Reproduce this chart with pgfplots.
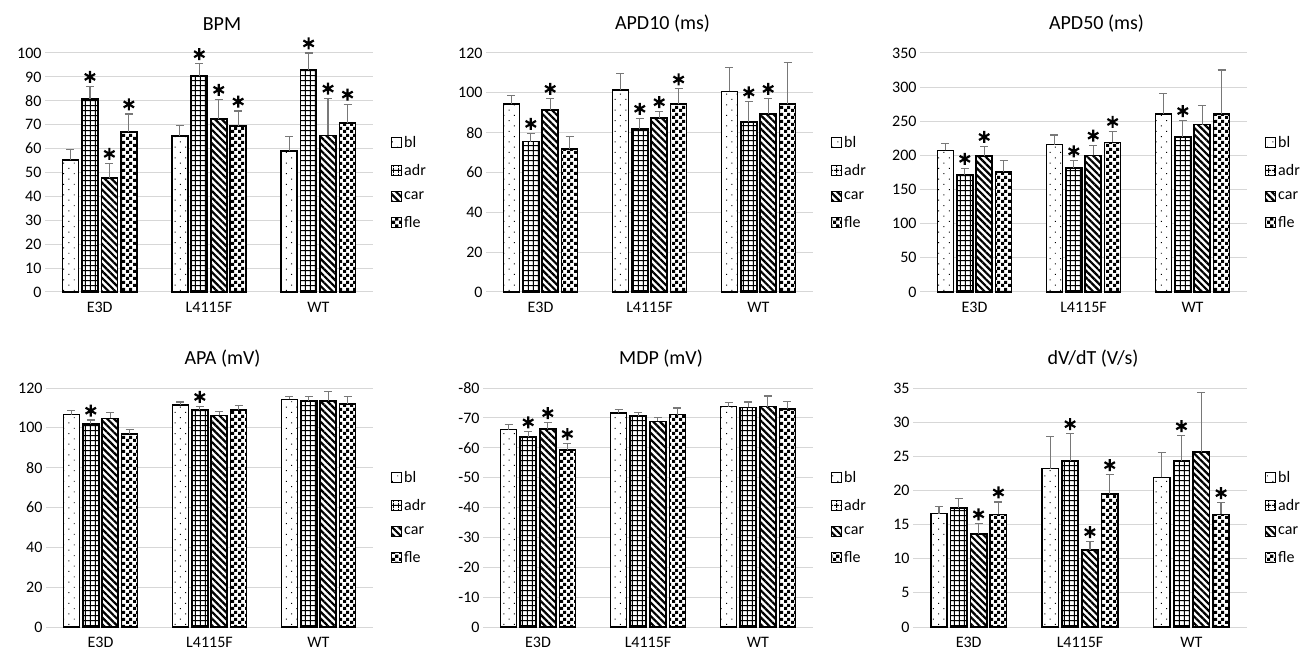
\documentclass[border=0pt]{standalone}
\usepackage{pgfplots}
\usepackage{pgfplotstable}
\pgfplotsset{compat=1.18}
\usepackage{fontspec}
\setmainfont{Carlito}
\usetikzlibrary{patterns,patterns.meta}
\definecolor{errgray}{RGB}{120,120,120}
\definecolor{gridgray}{RGB}{215,215,215}

\pgfdeclarepatternformonly{checker}{\pgfpointorigin}{\pgfqpoint{7pt}{7pt}}{\pgfqpoint{7pt}{7pt}}{%
  \pgfpathrectangle{\pgfpointorigin}{\pgfqpoint{3.5pt}{3.5pt}}%
  \pgfpathrectangle{\pgfqpoint{3.5pt}{3.5pt}}{\pgfqpoint{3.5pt}{3.5pt}}%
  \pgfusepath{fill}}

\pgfplotstableread{
x bl ble adr adre car care fle flee
0 55.2 4.5 80.8 5.2 47.6 6.2 67.0 7.5
1 65.2 4.6 90.3 5.2 72.3 8.3 69.5 6.2
2 58.9 6.0 92.9 7.1 65.5 15.6 70.6 8.0
}\bpm
\pgfplotstableread{
x bl ble adr adre car care fle flee
0 94.3 4.4 75.5 4.2 91.5 5.8 71.8 6.4
1 101.4 8.2 81.7 5.6 87.4 3.2 94.5 7.5
2 100.7 12.1 85.3 10.2 89.5 7.8 94.3 20.8
}\apdten
\pgfplotstableread{
x bl ble adr adre car care fle flee
0 207.5 10.3 172 9 199 14 176 16
1 216 14 182 10 200 15 219 16
2 261 30 227 24 245 28 261 64
}\apdfifty
\pgfplotstableread{
x bl ble adr adre car care fle flee
0 106.6 2.0 102.0 1.9 104.7 3.2 97.0 2.3
1 111.6 1.4 109.1 1.7 106.2 2.1 109.1 2.2
2 114.3 1.5 113.6 2.2 113.6 4.7 112.1 3.5
}\apa
\pgfplotstableread{
x bl ble adr adre car care fle flee
0 -66.1 1.8 -63.6 1.8 -66.2 2.3 -59.3 2.2
1 -71.6 1.1 -70.6 1.3 -68.8 1.3 -71.1 2.2
2 -73.8 1.4 -73.5 1.8 -73.8 3.5 -73.0 2.5
}\mdp
\pgfplotstableread{
x bl ble adr adre car care fle flee
0 16.6 1.1 17.4 1.4 13.6 1.5 16.5 1.8
1 23.2 4.7 24.3 4.0 11.3 1.2 19.5 2.8
2 21.9 3.6 24.3 3.7 25.6 8.8 16.5 1.7
}\dvdt

\pgfplotsset{
  panel/.style={
    scale only axis, height=239pt,
    xmin=-0.5, xmax=2.5, ymin=0,
    xtick={0,1,2}, xticklabels={E3D,L4115F,WT},
    axis line style={draw=none},
    tick style={draw=none},
    ymajorgrids, grid style={gridgray, line width=1pt},
    clip=false,
    /pgf/number format/assume math mode=true,
    tick label style={font=\fontsize{16}{18}\selectfont},
    xticklabel style={anchor=center, yshift=-15.5pt},
    title style={at={(0.5,1)}, anchor=center, yshift=23pt, xshift=13pt,
                 font=\fontsize{20}{24}\selectfont},
    legend style={at={(1,0.5)}, anchor=west, xshift=15pt, yshift=-10pt,
                  draw=none, fill=none, row sep=11pt,
                  font=\fontsize{16}{18}\selectfont},
    legend cell align=left,
  },
  mybar/.style={ybar, bar width=0.146, bar shift=0pt, draw=black, line width=1.6pt, fill=white,
    error bars/y explicit,
    error bars/error bar style={line width=1.2pt, draw=errgray},
    error bars/error mark options={rotate=90, mark size=4pt, line width=1.2pt, draw=errgray},
    legend image code/.code={\draw[##1, line width=1pt] (0pt,-5pt) rectangle (10pt,5pt);}},
  pbl/.style={postaction={pattern={Dots[angle=45, distance=7.5pt, radius=0.7pt]}}},
  padr/.style={postaction={pattern={Hatch[angle=0, distance=5.4pt, line width=1pt]}}},
  pcar/.style={postaction={pattern={Lines[angle=-45, distance=4.8pt, line width=2.2pt]}}},
  pfle/.style={postaction={pattern=checker}},
  star/.style={only marks, mark=asterisk, mark size=6pt, mark options={line width=2.2pt, draw=black}, forget plot},
}

\newcommand{\bars}[2]{%
  \addplot[mybar, pbl, error bars/y dir=#2] table[x expr=\thisrow{x}-0.267, y=bl, y error=ble] {#1};
  \addplot[mybar, padr, error bars/y dir=#2] table[x expr=\thisrow{x}-0.089, y=adr, y error=adre] {#1};
  \addplot[mybar, pcar, error bars/y dir=#2] table[x expr=\thisrow{x}+0.089, y=car, y error=care] {#1};
  \addplot[mybar, pfle, error bars/y dir=#2] table[x expr=\thisrow{x}+0.267, y=fle, y error=flee] {#1};
}

\begin{document}
\begin{tikzpicture}
\useasboundingbox (0,0) rectangle (1303pt,651pt);

\begin{axis}[panel, at={(45pt,359pt)}, width=328pt, title={BPM}, ymax=100, ytick={0,10,...,100}]
\bars{\bpm}{plus}
\addplot[star] coordinates {(-0.089,90) (0.089,57.8) (0.267,78.5) (0.911,99.5) (1.089,84.6) (1.267,79.7) (1.911,104) (2.089,85.1) (2.267,82.6)};
\legend{bl,adr,car,fle}
\end{axis}

\begin{axis}[panel, at={(486pt,359pt)}, width=327pt, title={APD10 (ms)}, ymax=120, ytick={0,20,...,120}]
\bars{\apdten}{plus}
\addplot[star] coordinates {(-0.089,84.4) (0.089,102) (0.911,92) (1.089,95.3) (1.267,106.7) (1.911,100.2) (2.089,102)};
\legend{bl,adr,car,fle}
\end{axis}

\begin{axis}[panel, at={(920pt,359pt)}, width=327pt, title={APD50 (ms)}, ymax=350, ytick={0,50,...,350}]
\bars{\apdfifty}{plus}
\addplot[star] coordinates {(-0.089,195) (0.089,227) (0.911,206) (1.089,229) (1.267,249) (1.911,265)};
\legend{bl,adr,car,fle}
\end{axis}

\begin{axis}[panel, at={(46pt,24pt)}, width=327pt, title={APA (mV)}, ymax=120, ytick={0,20,...,120}]
\bars{\apa}{plus}
\addplot[star] coordinates {(-0.089,108.6) (0.911,115.5)};
\legend{bl,adr,car,fle}
\end{axis}

\begin{axis}[panel, at={(483pt,24pt)}, width=330pt, title={MDP (mV)}, ymin=-80, ymax=0, y dir=reverse, ytick={-80,-70,...,0}]
\bars{\mdp}{minus}
\addplot[star] coordinates {(-0.089,-68.5) (0.089,-71.6) (0.267,-64.6)};
\legend{bl,adr,car,fle}
\end{axis}

\begin{axis}[panel, at={(913pt,24pt)}, width=334pt, title={dV/dT (V/s)}, ymax=35, ytick={0,5,...,35}]
\bars{\dvdt}{plus}
\addplot[star] coordinates {(0.089,16.5) (0.267,19.7) (0.911,29.7) (1.089,13.9) (1.267,23.7) (1.911,29.4) (2.267,19.6)};
\legend{bl,adr,car,fle}
\end{axis}
\end{tikzpicture}
\end{document}
